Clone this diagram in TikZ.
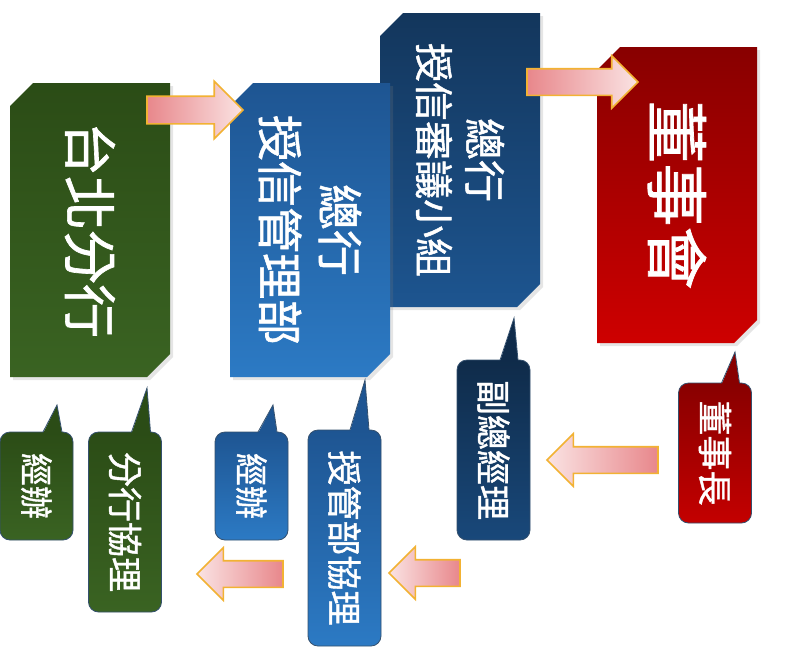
\documentclass[tikz,border=0pt]{standalone}
\usepackage{fontspec}
\usepackage{graphicx}
\newfontfamily\cjk{Noto Sans CJK TC}[FakeBold=1.2]
\usepackage{tikz}
\usetikzlibrary{shapes.misc,shapes.arrows,positioning,calc,shadows}

\definecolor{grnTop}{HTML}{2B4C16}
\definecolor{grnBot}{HTML}{3A6322}
\definecolor{bluTop}{HTML}{1E5592}
\definecolor{bluBot}{HTML}{2C7AC4}
\definecolor{navTop}{HTML}{13365C}
\definecolor{navBot}{HTML}{1D5590}
\definecolor{redTop}{HTML}{880000}
\definecolor{redBot}{HTML}{CE0000}
\definecolor{pinkDeep}{HTML}{E8878B}
\definecolor{pinkLight}{HTML}{FAE3E3}
\definecolor{arrEdge}{HTML}{F2B233}
\definecolor{callEdge}{HTML}{34506E}

\begin{document}
\begin{tikzpicture}[x=1pt, y=-1pt,
    box/.style={chamfered rectangle, chamfered rectangle corners={north west,south east},
      chamfered rectangle xsep=11.5pt, chamfered rectangle ysep=11.5pt,
      minimum width=160pt, minimum height=294pt, inner sep=0pt, outer sep=0pt,
      text=white, drop shadow={opacity=0.2, shadow xshift=3pt, shadow yshift=-3pt}},
    callout/.style={rectangle, rounded corners=10pt, draw=callEdge, line width=0.8pt,
      minimum width=73pt, inner sep=0pt, outer sep=0pt, text=white,
      font=\cjk\fontsize{35}{42}\selectfont},
    rarrow/.style={single arrow, draw=arrEdge, line width=1.6pt, inner xsep=0pt,
      inner ysep=12.5pt, single arrow head extend=13pt, outer sep=0pt,
      left color=pinkDeep, right color=pinkLight, anchor=tail},
    larrow/.style={rarrow, shape border rotate=180, left color=pinkLight, right color=pinkDeep}]

    \fill[white] (0,0) rectangle (790,649);
    \useasboundingbox (0,0) rectangle (790,649);

    % boxes
    \node[box, top color=navTop, bottom color=navBot] (cmt) at (460,160)
        {\rotatebox{-90}{\cjk\fontsize{39}{47}\selectfont\shortstack{{\fontsize{42}{50}\selectfont 總行}\\[10pt]授信審議小組}}};
    \node[box, top color=bluTop, bottom color=bluBot] (crd) at (310,230)
        {\rotatebox{-90}{\cjk\fontsize{46}{55}\selectfont\shortstack{總行\\[14pt]授信管理部}}};
    \node[box, top color=grnTop, bottom color=grnBot] (tpe) at (90,230)
        {\rotatebox{-90}{\cjk\fontsize{54}{64}\selectfont 台北分行}};
    \node[box, top color=redTop, bottom color=redBot, minimum height=296pt] (brd) at (677,195)
        {\rotatebox{-90}{\cjk\fontsize{63}{75}\selectfont 董事會}};

    % callouts
    \node[callout, top color=grnTop, bottom color=grnBot, minimum height=108pt, font=\cjk\fontsize{33}{40}\selectfont] (jb1) at (36.5,486) {\rotatebox{-90}{經辦}};
    \node[callout, top color=grnTop, bottom color=grnBot, minimum height=180pt] (fx) at (125,522) {\rotatebox{-90}{分行協理}};
    \node[callout, top color=bluTop, bottom color=bluBot, minimum height=108pt, font=\cjk\fontsize{33}{40}\selectfont] (jb2) at (251.5,486) {\rotatebox{-90}{經辦}};
    \node[callout, top color=bluTop, bottom color=bluBot, minimum height=216pt] (sx) at (344.5,538) {\rotatebox{-90}{授管部協理}};
    \node[callout, top color=navTop!80!black, bottom color=navBot!85!black, minimum height=180pt] (fz) at (493.5,450) {\rotatebox{-90}{副總經理}};
    \node[callout, top color=redTop, bottom color=redBot!95!black, minimum height=140pt] (dsz) at (715,453) {\rotatebox{-90}{董事長}};

    % pointers
    \coordinate (jb1p) at (57,405);
    \coordinate (fxp) at (147,388);
    \coordinate (jb2p) at (273,405);
    \coordinate (sxp) at (365,380);
    \coordinate (fzp) at (514,318);
    \coordinate (dszp) at (735,352);
    \fill[grnTop] ([xshift=-30pt,yshift=-1.5pt]jb1.north east) -- (jb1p) -- ([xshift=-11pt,yshift=-1.5pt]jb1.north east) -- cycle;
    \draw[callEdge, line width=0.8pt] ([xshift=-30pt]jb1.north east) -- (jb1p) -- ([xshift=-11pt]jb1.north east);
    \fill[grnTop] ([xshift=-30pt,yshift=-1.5pt]fx.north east) -- (fxp) -- ([xshift=-11pt,yshift=-1.5pt]fx.north east) -- cycle;
    \draw[callEdge, line width=0.8pt] ([xshift=-30pt]fx.north east) -- (fxp) -- ([xshift=-11pt]fx.north east);
    \fill[bluTop] ([xshift=-30pt,yshift=-1.5pt]jb2.north east) -- (jb2p) -- ([xshift=-11pt,yshift=-1.5pt]jb2.north east) -- cycle;
    \draw[callEdge, line width=0.8pt] ([xshift=-30pt]jb2.north east) -- (jb2p) -- ([xshift=-11pt]jb2.north east);
    \fill[bluTop] ([xshift=-31pt,yshift=-1.5pt]sx.north east) -- (sxp) -- ([xshift=-12pt,yshift=-1.5pt]sx.north east) -- cycle;
    \draw[callEdge, line width=0.8pt] ([xshift=-31pt]sx.north east) -- (sxp) -- ([xshift=-12pt]sx.north east);
    \fill[navTop!80!black] ([xshift=-30pt,yshift=-1.5pt]fz.north east) -- (fzp) -- ([xshift=-12pt,yshift=-1.5pt]fz.north east) -- cycle;
    \draw[callEdge, line width=0.8pt] ([xshift=-30pt]fz.north east) -- (fzp) -- ([xshift=-12pt]fz.north east);
    \fill[redTop] ([xshift=-30pt,yshift=-1.5pt]dsz.north east) -- (dszp) -- ([xshift=-12pt,yshift=-1.5pt]dsz.north east) -- cycle;
    \draw[callEdge, line width=0.8pt] ([xshift=-30pt]dsz.north east) -- (dszp) -- ([xshift=-12pt]dsz.north east);

    % block arrows
    \node[rarrow, minimum height=96pt, inner ysep=13pt, single arrow head extend=15pt] (a1) at (147,110) {};
    \node[rarrow, minimum height=111pt] (a2) at (527,82) {};
    \node[larrow, minimum height=111pt] (a3) at (658,460) {};
    \node[larrow, minimum height=71pt] (a4) at (460,573) {};
    \node[larrow, minimum height=86pt] (a5) at (283,574) {};
\end{tikzpicture}
\end{document}
